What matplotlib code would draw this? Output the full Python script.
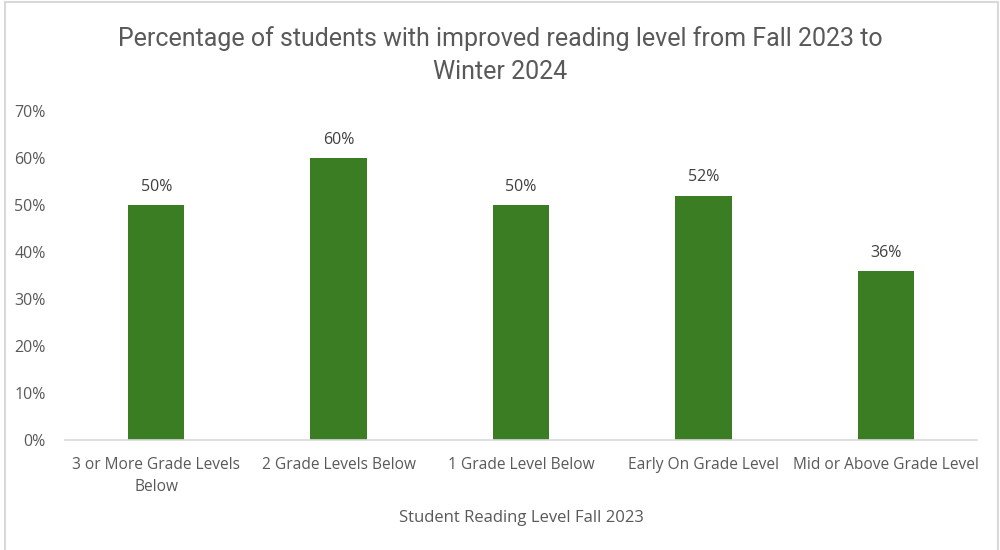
import matplotlib.pyplot as plt
from matplotlib.lines import Line2D
from matplotlib.ticker import PercentFormatter

# Reading level groups and share of students who improved
levels = ['3 or More Grade Levels\nBelow', '2 Grade Levels Below', '1 Grade Level Below',
          'Early On Grade Level', 'Mid or Above Grade Level']
improved = [50, 60, 50, 52, 36]

plt.rcParams['font.family'] = ['Open Sans', 'DejaVu Sans']
text_grey = '#595959'

fig = plt.figure(figsize=(10, 5.5), dpi=100)
ax = fig.add_axes([0.065, 0.2, 0.912, 0.598])

x = range(len(levels))
bars = ax.bar(x, improved, width=0.31, color='#3b7d23')

for b, v in zip(bars, improved):
    ax.text(b.get_x() + b.get_width() / 2, v + 2.2, f'{v}%', ha='center', va='bottom',
            fontsize=11.5, color='#404040')

ax.set_xlim(-0.5, len(levels) - 0.5)
ax.set_ylim(0, 70)
ax.set_yticks(range(0, 71, 10))
ax.yaxis.set_major_formatter(PercentFormatter(decimals=0))
ax.set_xticks(list(x))
ax.set_xticklabels(levels, fontsize=11.2, color=text_grey, linespacing=1.5)
ax.tick_params(axis='y', labelsize=11.5, labelcolor=text_grey, length=0, pad=14)
ax.tick_params(axis='x', length=0, pad=12)

for side in ['top', 'right', 'left']:
    ax.spines[side].set_visible(False)
ax.spines['bottom'].set_color('#d9d9d9')
ax.spines['bottom'].set_linewidth(1.2)

ax.set_xlabel('Student Reading Level Fall 2023', fontsize=12, color=text_grey, labelpad=11)

fig.text(0.5, 0.9, 'Percentage of students with improved reading level from Fall 2023 to\nWinter 2024',
         ha='center', va='center', fontsize=18, color=text_grey, linespacing=1.5,
         family=['Roboto', 'DejaVu Sans'])

# thin frame around the chart area
frame_kw = dict(color='#d9d9d9', linewidth=1.5, transform=fig.transFigure)
fig.add_artist(Line2D([0.005, 0.005], [0, 0.996], **frame_kw))
fig.add_artist(Line2D([0.005, 0.998], [0.996, 0.996], **frame_kw))
fig.add_artist(Line2D([0.998, 0.998], [0, 0.996], **frame_kw))

plt.savefig('out.png')
plt.close()
